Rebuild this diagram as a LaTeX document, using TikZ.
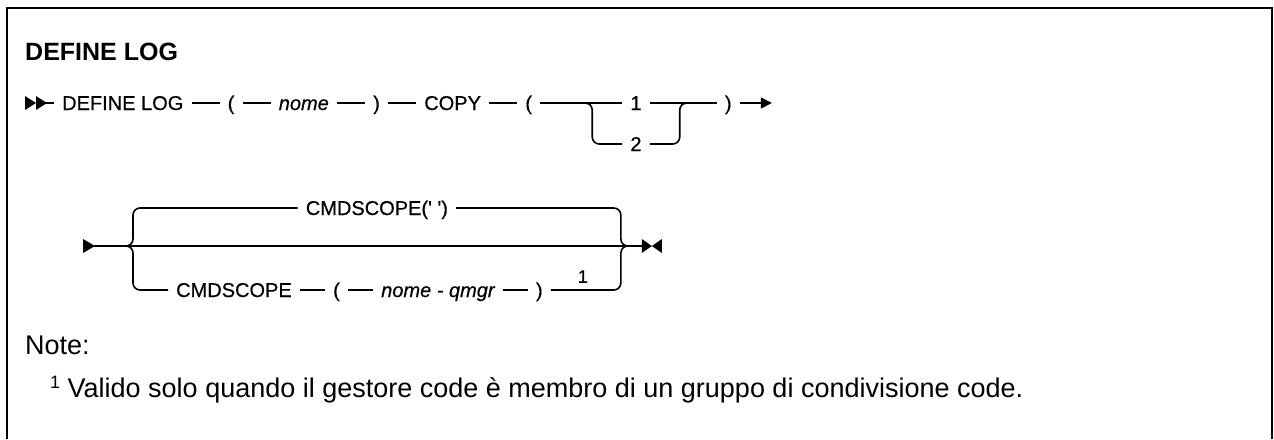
\documentclass[tikz,border=0pt]{standalone}
\usepackage{fontspec}
\setmainfont{Liberation Sans}
\newfontfamily\diagfont{Liberation Sans}[FakeBold=0.5]
\usetikzlibrary{positioning,calc,arrows.meta}
\begin{document}
\begin{tikzpicture}[x=1pt,y=-1pt,
  lbl/.style={inner sep=0pt, font=\diagfont\fontsize{20}{24}\selectfont, text height=14pt, text depth=0pt},
  var/.style={lbl, font=\diagfont\fontsize{20}{24}\selectfont\itshape},
  seg/.style={line width=1.6pt},
  brk/.style={seg, rounded corners=7pt},
  tip/.style={fill=black},
  note/.style={anchor=west, inner sep=0pt, font=\fontsize{27}{32}\selectfont},
  node distance=44pt]
\useasboundingbox (0,0) rectangle (1274,439);
\draw[line width=2pt] (7,439) -- (7,8) -- (1272,8) -- (1272,439);
\node[anchor=west, inner sep=0pt, font=\fontsize{25}{30}\selectfont\bfseries] (title) at (25,52) {DEFINE LOG};
% ---- row 1
\fill[tip] (25,96) -- (36,103) -- (25,110) -- cycle;
\fill[tip] (36,96) -- (47,103) -- (36,110) -- cycle;
\coordinate (s1) at (46,103);
\node[lbl, anchor=west] (deflog) at (62,103) {DEFINE LOG};
\node[lbl, right=of deflog] (pa) {(};
\node[var, right=of pa] (nome) {nome};
\node[lbl, right=of nome] (pb) {)};
\node[lbl, right=of pb] (copy) {COPY};
\node[lbl, right=of copy] (pc) {(};
\node[lbl, anchor=west] (one) at ($(pc.east)+(98pt,0)$) {1};
\node[lbl, anchor=west] (two) at ($(one.west)+(0,41)$) {2};
\node[lbl, anchor=west] (pd) at ($(one.east)+(83pt,0)$) {)};
\coordinate (e1) at ($(pd.east)+(40pt,0)$);
\draw[seg] (s1) -- ([xshift=-8pt]deflog.west);
\foreach \a/\b in {deflog/pa, pa/nome, nome/pb, pb/copy, copy/pc, pc/one, one/pd}
  \draw[seg] ([xshift=8pt]\a.east) -- ([xshift=-8pt]\b.west);
\draw[seg, -{Triangle[length=11pt,width=11pt]}] ([xshift=8pt]pd.east) -- (e1);
\coordinate (bl) at ($(pc.east)+(60pt,0)$);
\coordinate (br) at ($(one.east)+(38pt,0)$);
\draw[brk] ($(bl)+(-14pt,0)$) -- (bl) -- (bl |- two) -- ([xshift=-8pt]two.west);
\draw[brk] ([xshift=8pt]two.east) -- (br |- two) -- (br) -- ($(br)+(14pt,0)$);
% ---- row 2
\fill[tip] (83,239) -- (95,246) -- (83,253) -- cycle;
\coordinate (s2) at (94,246);
\coordinate (L) at (133,246);
\begin{scope}[node distance=41pt]
\node[lbl, anchor=west] (cmd) at (176,290) {CMDSCOPE};
\node[lbl, right=of cmd] (pe) {(};
\node[var, right=of pe] (qm) {nome - qmgr};
\node[lbl, right=of qm] (pf) {)};
\end{scope}
\node[inner sep=0pt, font=\diagfont\fontsize{18}{20}\selectfont, anchor=south] (fn) at ($(pf.east)+(40pt,7pt)$) {1};
\coordinate (R) at ($(pf.east |- L)+(78pt,0)$);
\node[lbl] (cmddef) at ($(L)!0.5!(R)+(0,-38)$) {CMDSCOPE(' ')};
\coordinate (bt) at ($(R)+(21pt,0)$);
\draw[seg] (s2) -- (bt);
\draw[brk] ($(L)+(-14pt,0)$) -- (L) -- (L |- cmddef) -- ([xshift=-8pt]cmddef.west);
\draw[brk] ([xshift=8pt]cmddef.east) -- (R |- cmddef) -- (R) -- ($(R)+(14pt,0)$);
\draw[brk] ($(L)+(-14pt,0)$) -- (L) -- (L |- cmd) -- ([xshift=-8pt]cmd.west);
\foreach \a/\b in {cmd/pe, pe/qm, qm/pf}
  \draw[seg] ([xshift=8pt]\a.east) -- ([xshift=-8pt]\b.west);
\draw[brk] ([xshift=8pt]pf.east) -- (R |- cmd) -- (R) -- ($(R)+(14pt,0)$);
\fill[tip] (bt) ++(0,-7) -- ++(10,7) -- ++(-10,7) -- cycle;
\fill[tip] ($(bt)+(20,0)$) ++(0,-7) -- ++(-10,7) -- ++(10,7) -- cycle;
% ---- notes
\node[note] (notehead) at (25,345) {Note:};
\node[note] (fnote) at (50,390) {{\fontsize{18}{20}\selectfont\raisebox{9pt}{1}}\ Valido solo quando il gestore code è membro di un gruppo di condivisione code.};
\end{tikzpicture}
\end{document}
